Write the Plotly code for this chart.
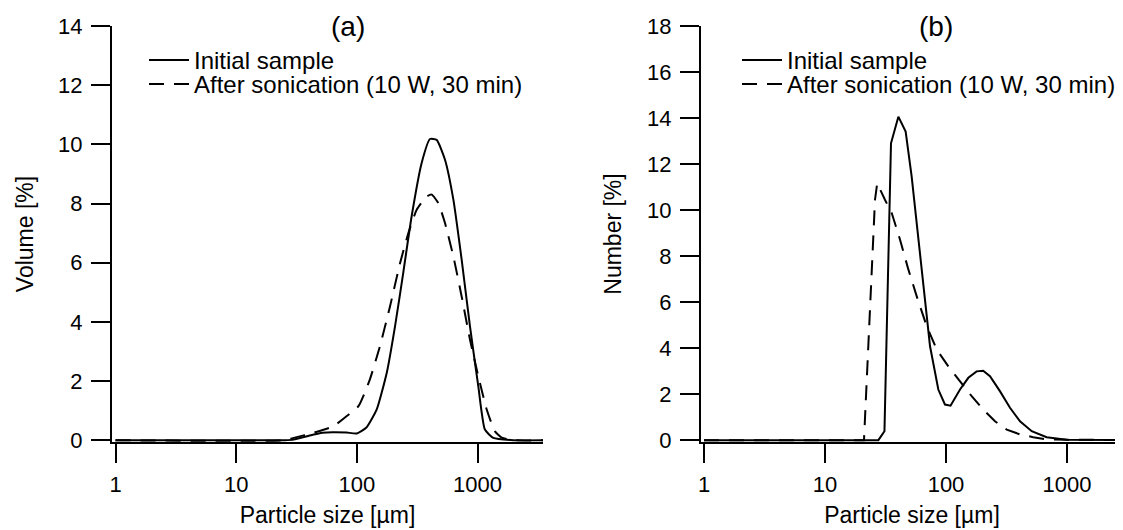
import plotly.graph_objects as go

# ---------------- Data ----------------
# Panel (a): volume-based particle size distribution
size_a_initial = [1, 25, 30, 40, 52, 63, 82, 100, 120, 146, 177, 207, 242, 284, 344, 403,
                  458, 537, 630, 738, 865, 1014, 1150, 1350, 1977, 4000]
vol_initial = [0, 0, 0.02, 0.15, 0.25, 0.27, 0.26, 0.23, 0.43, 1.04, 2.29, 3.85, 5.65, 7.56,
               9.37, 10.18, 10.15, 9.48, 8.13, 6.1, 3.85, 1.82, 0.36, 0.08, 0, 0]

size_a_sonic = [1, 25, 30, 43.5, 63.6, 82, 103, 128, 155, 188, 228, 267, 313, 379, 417, 473,
                537, 630, 738, 865, 1014, 1190, 1393, 1585, 2000, 4000]
vol_sonic = [0, 0, 0.08, 0.25, 0.47, 0.81, 1.15, 2.05, 3.17, 4.52, 5.99, 7.0, 7.79, 8.24, 8.3,
             8.01, 7.34, 6.21, 4.86, 3.4, 2.16, 1.04, 0.3, 0.09, 0, 0]

# Panel (b): number-based particle size distribution
size_b_initial = [1, 27.6, 31, 35.1, 40.4, 46.4, 52, 61, 73.8, 86.4, 98, 109, 130.6, 153, 179,
                  203, 231, 279, 338, 409, 511, 679, 995, 4000]
num_initial = [0, 0, 0.39, 12.9, 14.06, 13.41, 11.46, 8.13, 4.08, 2.2, 1.55, 1.5, 2.2, 2.71,
               2.99, 3.02, 2.78, 2.13, 1.41, 0.82, 0.39, 0.13, 0.02, 0]

size_b_sonic = [1, 21, 25.9, 27.0, 31.3, 35.6, 41.7, 48.9, 57.3, 69.3, 83.8, 104.5, 130.6, 163,
                203, 254, 318, 409, 526, 679, 4000]
num_sonic = [0, 0, 10.45, 11.17, 10.45, 9.87, 8.71, 7.41, 6.25, 4.95, 3.94, 3.21, 2.56, 1.91,
             1.33, 0.82, 0.46, 0.25, 0.13, 0.03, 0]

series_names = ["Initial sample", "After sonication (10 W, 30 min)"]
x_tick_vals = [1, 10, 100, 1000]
x_tick_text = ["1", "10", "100", "1000"]
y_ticks_a = [0, 2, 4, 6, 8, 10, 12, 14]
y_ticks_b = [0, 2, 4, 6, 8, 10, 12, 14, 16, 18]
panel_labels = ["(a)", "(b)"]
x_title = "Particle size [µm]"
y_titles = ["Volume [%]", "Number [%]"]

# ---------------- Geometry helpers ----------------
# the page body adds an 8 px offset; the figure is sized so it fills the window
OFF = 8
W, H = 1123 - OFF, 530 - OFF
TOP = 26 - OFF            # figure y of plot-area top
BOT = 442.5 - OFF         # figure y of plot-area bottom
PH = BOT - TOP


def px(screen_x):
    return (screen_x - OFF) / W


def py(screen_y):
    return 1 - (screen_y - OFF - TOP) / PH


FONT = "Liberation Sans, Arial, sans-serif"
solid_a = dict(color="black", width=2, shape="spline", smoothing=0.5)
dashed_a = dict(color="black", width=2, dash="15px,10px", shape="spline", smoothing=0.5)
solid_b = dict(color="black", width=2)
dashed_b = dict(color="black", width=2, dash="15px,10px")

fig = go.Figure()
fig.add_trace(go.Scatter(x=size_a_initial, y=vol_initial, mode="lines", line=solid_a,
                         name=series_names[0], xaxis="x", yaxis="y", legend="legend"))
fig.add_trace(go.Scatter(x=size_a_sonic, y=vol_sonic, mode="lines", line=dashed_a,
                         name=series_names[1], xaxis="x", yaxis="y", legend="legend2"))
fig.add_trace(go.Scatter(x=size_b_initial, y=num_initial, mode="lines", line=solid_b,
                         name=series_names[0], xaxis="x2", yaxis="y2", legend="legend3"))
fig.add_trace(go.Scatter(x=size_b_sonic, y=num_sonic, mode="lines", line=dashed_b,
                         name=series_names[1], xaxis="x2", yaxis="y2", legend="legend4"))

common_x = dict(type="log", showline=True, linewidth=2, linecolor="black", ticks="outside",
                ticklen=19, tickwidth=2, tickcolor="black", showgrid=False, zeroline=False,
                tickvals=x_tick_vals, ticktext=x_tick_text, automargin=False,
                tickfont=dict(size=22), ticklabelstandoff=3,
                title=dict(text=x_title, font=dict(size=23), standoff=10))
common_y = dict(showline=True, linewidth=2, linecolor="black", ticks="outside",
                ticklen=19, tickwidth=2, tickcolor="black", showgrid=False, zeroline=False,
                automargin=False, tickfont=dict(size=22), ticklabelstandoff=4)


def legend_box(screen_x, row_center):
    return dict(x=px(screen_x), y=py(row_center - 24), xanchor="left", yanchor="top",
                bgcolor="rgba(0,0,0,0)", font=dict(size=24), itemwidth=40)


fig.update_layout(
    width=W, height=H, template="none",
    margin=dict(l=0, r=0, t=TOP, b=H - BOT, pad=0),
    paper_bgcolor="white", plot_bgcolor="white",
    font=dict(family=FONT, size=22, color="black"),
    xaxis=dict(common_x, domain=[px(112), px(543)], range=[-0.029, 3.542], anchor="y"),
    yaxis=dict(common_y, domain=[0, 1], range=[-0.06, 14], tickvals=y_ticks_a, anchor="x",
               title=dict(text=y_titles[0], font=dict(size=23), standoff=18)),
    xaxis2=dict(common_x, domain=[px(701), 1], range=[-0.025, 3.463], anchor="y2"),
    yaxis2=dict(common_y, domain=[0, 1], range=[-0.08, 18], tickvals=y_ticks_b, anchor="x2",
                title=dict(text=y_titles[1], font=dict(size=23), standoff=19)),
    legend=legend_box(144, 62),
    legend2=legend_box(144, 86),
    legend3=legend_box(737, 62),
    legend4=legend_box(737, 86),
    showlegend=True,
    annotations=[
        dict(text=panel_labels[0], xref="paper", yref="paper", x=px(347.5), y=py(27),
             xanchor="center", yanchor="middle", showarrow=False, font=dict(size=28)),
        dict(text=panel_labels[1], xref="paper", yref="paper", x=px(936), y=py(27),
             xanchor="center", yanchor="middle", showarrow=False, font=dict(size=28)),
    ],
)

fig.write_html("out.html")
